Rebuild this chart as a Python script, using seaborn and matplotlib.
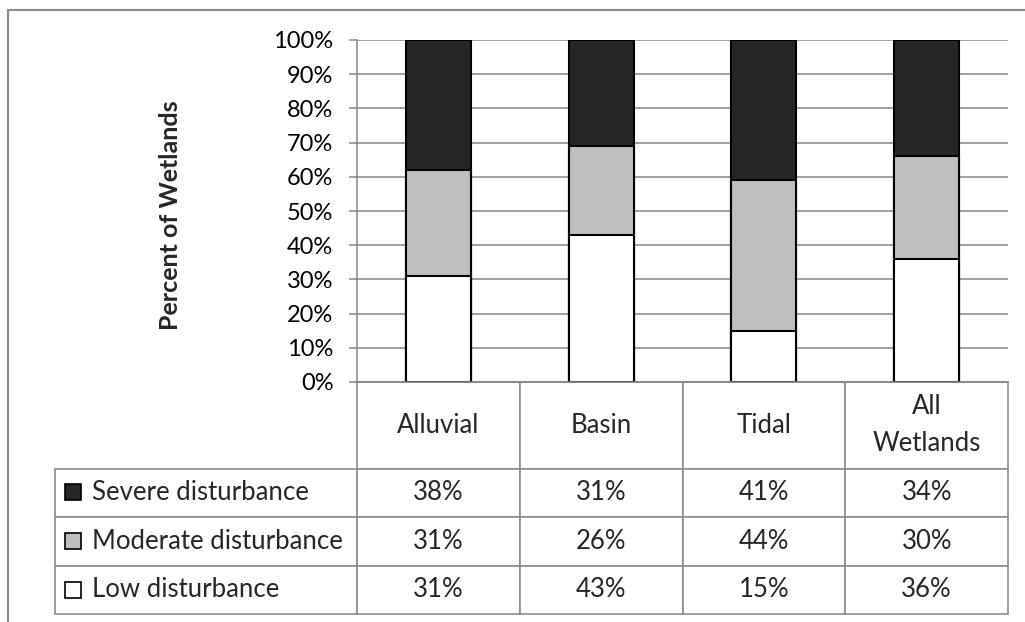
import pandas as pd
import matplotlib
matplotlib.use('Agg')
import matplotlib.pyplot as plt
from matplotlib.patches import Rectangle
from matplotlib.lines import Line2D
from matplotlib.ticker import PercentFormatter
import seaborn as sns

# ---- data ----
categories = ['Alluvial', 'Basin', 'Tidal', 'All Wetlands']
header_labels = ['Alluvial', 'Basin', 'Tidal', 'All\nWetlands']
severe = [38, 31, 41, 34]
moderate = [31, 26, 44, 30]
low = [31, 43, 15, 36]
series_names = ['Severe disturbance', 'Moderate disturbance', 'Low disturbance']
y_ticks = [0, 10, 20, 30, 40, 50, 60, 70, 80, 90, 100]

SEVERE_C = '#262626'
MOD_C = '#bfbfbf'
LOW_C = '#ffffff'
GRID_C = '#868686'

sns.set_theme(style='white')
plt.rcParams['font.family'] = ['Lato', 'DejaVu Sans']

W, H = 1025, 622
fig = plt.figure(figsize=(W / 100, H / 100), dpi=100)


def fx(px):
    return px / W


def fy(py):
    return 1 - py / H


# plot area in pixels
PL, PR, PT, PB = 357, 1008, 40, 382
pw, ph = PR - PL, PB - PT
ax = fig.add_axes([fx(PL), fy(PB), fx(PR) - fx(PL), fy(PT) - fy(PB)])

df = pd.DataFrame({'category': categories, 'low': low,
                   'moderate': moderate, 'severe': severe})
df['mid'] = df['low'] + df['moderate']
df['top'] = df['mid'] + df['severe']

# overlapping bars drawn tallest first -> stacked look
for col, color in [('top', SEVERE_C), ('mid', MOD_C), ('low', LOW_C)]:
    sns.barplot(data=df, x='category', y=col, order=categories, color=color,
                saturation=1, edgecolor='black', linewidth=1.5, width=0.4, ax=ax)

ax.set_ylim(0, 100)
ax.set_xlim(-0.5, 3.5)
ax.set_yticks(y_ticks)
ax.yaxis.set_major_formatter(PercentFormatter(decimals=0))
ax.set_xticks([])
ax.set_xlabel('')
ax.set_ylabel('Percent of Wetlands', fontsize=18, fontweight='bold')
ax.yaxis.set_label_coords((182 - PL) / pw, 0.488)
ax.yaxis.grid(True, color=GRID_C, linewidth=1.1)
ax.set_axisbelow(True)
ax.tick_params(axis='y', left=True, length=6, width=1.1, color=GRID_C,
               pad=11, labelsize=17, labelcolor='black')
for side in ['top', 'right']:
    ax.spines[side].set_visible(False)
for side in ['left', 'bottom']:
    ax.spines[side].set_color(GRID_C)
    ax.spines[side].set_linewidth(1.1)

# ---- data table ----
# bbox covers only the value columns; the row-label column hangs to the left
cell_text = [[f'{v}%' for v in severe],
             [f'{v}%' for v in moderate],
             [f'{v}%' for v in low]]
TB = 614
tbl = ax.table(cellText=cell_text, rowLabels=series_names, colLabels=header_labels,
               cellLoc='center', rowLoc='left',
               bbox=[0, (PB - TB) / ph, 1, (TB - PB) / ph])
tbl._autoColumns = []  # keep the fixed width for the row-label column
tbl.auto_set_font_size(False)
tbl.set_fontsize(18.5)
for (r, c), cell in tbl.get_celld().items():
    cell.set_edgecolor('#8c8c8c')
    cell.set_linewidth(1.2)
    cell.set_height((86 if r == 0 else 48) / ph)
    cell.set_width((302 if c == -1 else pw / 4) / pw)
    if c == -1:
        cell.PAD = 37 / 302
tbl[0, 3].get_text().set_linespacing(1.6)

# legend keys inside the row label cells
row_centers = [492, 541, 590]
for yc, color in zip(row_centers, [SEVERE_C, MOD_C, LOW_C]):
    fig.add_artist(Rectangle((fx(65), fy(yc + 8)), 16 / W, 16 / H,
                             facecolor=color, edgecolor='black', linewidth=1.2,
                             transform=fig.transFigure))

# outer chart border (runs off right / bottom edge)
fig.add_artist(Line2D([fx(8), fx(8)], [fy(10), 0], color='#8c8c8c', linewidth=1.5))
fig.add_artist(Line2D([fx(8), 1], [fy(10), fy(10)], color='#8c8c8c', linewidth=1.5))

fig.savefig('out.png', dpi=100)
